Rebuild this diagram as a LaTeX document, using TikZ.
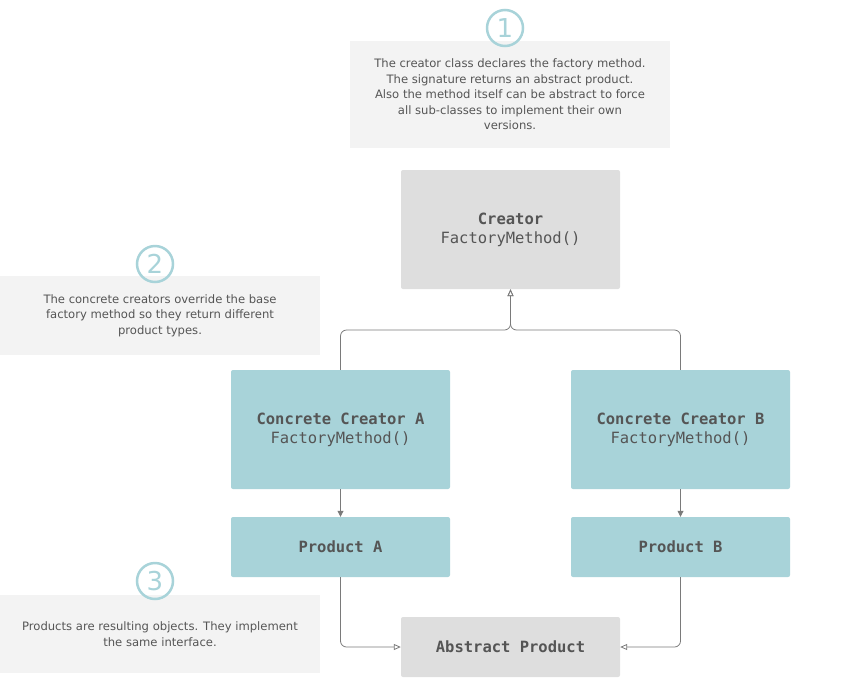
\documentclass[tikz,border=0pt]{standalone}
\usepackage{xcolor}
\usepackage{fontspec}
\setmainfont{DejaVu Sans}
\setmonofont{DejaVu Sans Mono}
\usepackage{tikz}
\usetikzlibrary{positioning,arrows.meta}

\definecolor{tealbox}{HTML}{A8D3D9}
\definecolor{greybox}{HTML}{DEDEDE}
\definecolor{notebg}{HTML}{F3F3F3}
\definecolor{inktext}{HTML}{555555}
\definecolor{inkline}{HTML}{7A7A7A}

\begin{document}
\begin{tikzpicture}[x=1pt, y=-1pt,
    classbox/.style={rounded corners=2pt, inner sep=0pt, minimum width=219pt,
        align=center, text=inktext, font=\ttfamily\fontsize{15.5}{19}\selectfont},
    note/.style={fill=notebg, inner sep=0pt, minimum width=320pt, align=center,
        text=inktext, font=\fontsize{11.6}{15.5}\selectfont},
    badge/.style={circle, draw=tealbox, line width=2.5pt, minimum size=36pt,
        inner sep=0pt, text=tealbox, font=\fontsize{26}{26}\selectfont},
    link/.style={draw=inkline, line width=0.8pt}]
\useasboundingbox (0,0) rectangle (842,678);

\node[note, minimum height=107pt] (note_1) at (510,94.5) {The creator class declares the factory method.\\The signature returns an abstract product.\\Also the method itself can be abstract to force\\all sub-classes to implement their own\\versions.};
\node[note, minimum height=79pt] (note_2) at (160,315.5) {The concrete creators override the base\\factory method so they return different\\product types.};
\node[note, minimum height=78pt] (note_3) at (160,634) {Products are resulting objects. They implement\\the same interface.};

\node[badge] (badge_1) at (505,28) {1};
\node[badge] (badge_2) at (155,264) {2};
\node[badge] (badge_3) at (155,581) {3};

\node[classbox, fill=greybox, minimum height=119pt] (creator) at (510.5,229.5) {\textbf{Creator}\\FactoryMethod()};
\node[classbox, fill=tealbox, minimum height=119pt] (creator_a) at (340.5,429.5) {\textbf{Concrete Creator A}\\FactoryMethod()};
\node[classbox, fill=tealbox, minimum height=119pt] (creator_b) at (680.5,429.5) {\textbf{Concrete Creator B}\\FactoryMethod()};
\node[classbox, fill=tealbox, minimum height=60pt] (product_a) at (340.5,547) {\textbf{Product A}};
\node[classbox, fill=tealbox, minimum height=60pt] (product_b) at (680.5,547) {\textbf{Product B}};
\node[classbox, fill=greybox, minimum height=60pt] (product) at (510.5,647) {\textbf{Abstract Product}};

\coordinate (merge) at (510.5,330);

\draw[link, rounded corners=6pt, -{Triangle[open, length=7pt, width=6pt]}] (creator_a.north) |- (merge) -- (creator.south);
\draw[link, rounded corners=6pt, -{Triangle[open, length=7pt, width=6pt]}] (creator_b.north) |- (merge) -- (creator.south);
\draw[link, -{Triangle[length=6pt, width=6pt]}] (creator_a.south) -- (product_a.north);
\draw[link, -{Triangle[length=6pt, width=6pt]}] (creator_b.south) -- (product_b.north);
\draw[link, rounded corners=6pt, -{Triangle[open, length=7pt, width=6pt]}] (product_a.south) |- (product.west);
\draw[link, rounded corners=6pt, -{Triangle[open, length=7pt, width=6pt]}] (product_b.south) |- (product.east);

\end{tikzpicture}
\end{document}
